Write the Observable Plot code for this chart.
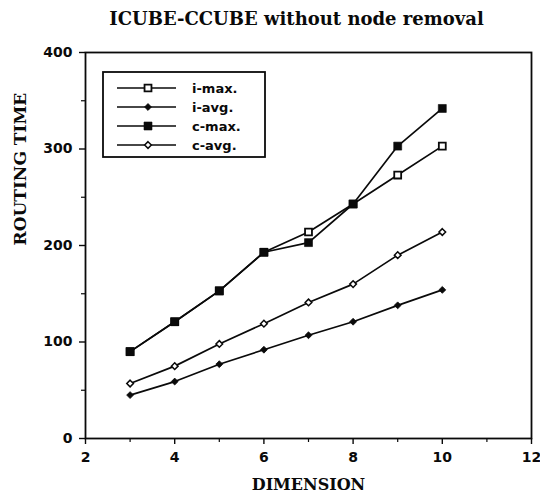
<!DOCTYPE html>
<html>
<head>
<meta charset="utf-8">
<script src="https://cdn.jsdelivr.net/npm/d3@7"></script>
<script src="https://cdn.jsdelivr.net/npm/@observablehq/plot@0.6"></script>
<style>
  html, body { margin: 0; padding: 0; background: #fff; }
  #chart { position: relative; width: 540px; height: 501px; }
</style>
</head>
<body>
<div id="chart"></div>
<script>
// ---- data ----
const dims   = [3, 4, 5, 6, 7, 8, 9, 10];
const iMax   = [90, 121, 153, 193, 214, 243, 273, 303];
const iAvg   = [45, 59, 77, 92, 107, 121, 138, 154];
const cMax   = [90, 121, 153, 193, 203, 243, 303, 342];
const cAvg   = [57, 75, 98, 119, 141, 160, 190, 214];
const seriesNames = ["i-max.", "i-avg.", "c-max.", "c-avg."];
const xMajor = [2, 4, 6, 8, 10, 12];
const xMinor = [3, 5, 7, 9, 11];
const yMajor = [0, 100, 200, 300, 400];
const yMinor = [50, 150, 250, 350];
const titleText = "ICUBE-CCUBE without node removal";
const xLabel = "DIMENSION";
const yLabel = "ROUTING TIME";

// ---- styles per series ----
const ink = "#0a0a0a";
const styles = {
  "i-max.": {symbol: "square",   r: 3.9, fill: "#fff", stroke: ink, sw: 1.8},
  "i-avg.": {symbol: "diamond2", r: 3.1, fill: ink,    stroke: ink, sw: 0.8},
  "c-max.": {symbol: "square",   r: 4.5, fill: ink,    stroke: ink, sw: 0.6},
  "c-avg.": {symbol: "diamond2", r: 3.0, fill: "#fff", stroke: ink, sw: 1.5}
};

const valuesBySeries = {"i-max.": iMax, "i-avg.": iAvg, "c-max.": cMax, "c-avg.": cAvg};
const rows = seriesNames.flatMap(s => dims.map((d, i) => ({series: s, dim: d, value: valuesBySeries[s][i]})));

const dotOrder = ["i-max.", "c-avg.", "i-avg.", "c-max."];
const dotMarks = dotOrder.map(s => Plot.dot(rows.filter(r => r.series === s), {
  x: "dim", y: "value",
  symbol: () => styles[s].symbol,
  r: styles[s].r, fill: styles[s].fill, stroke: styles[s].stroke, strokeWidth: styles[s].sw
}));

const serif = "DejaVu Serif";
const sans = "DejaVu Sans";

const plot = Plot.plot({
  width: 540,
  height: 501,
  marginLeft: 85,
  marginRight: 9,
  marginTop: 52,
  marginBottom: 63,
  style: {fontFamily: sans, fontWeight: "bold", fontSize: "13px", color: ink, background: "#fff"},
  x: {domain: [2, 12]},
  y: {domain: [0, 400]},
  symbol: {type: "identity"},
  marks: [
    Plot.axisX({ticks: xMajor, tickSize: 6, tickPadding: 8, label: null, stroke: ink, strokeWidth: 1.4, fontSize: 14, fontWeight: "bold"}),
    Plot.axisX({ticks: xMinor, tickSize: 4, text: null, label: null, stroke: ink, strokeWidth: 1.2}),
    Plot.axisY({ticks: yMajor, tickSize: 6, tickPadding: 7, label: null, stroke: ink, strokeWidth: 1.4, fontSize: 14, fontWeight: "bold"}),
    Plot.axisY({ticks: yMinor, tickSize: 4, text: null, label: null, stroke: ink, strokeWidth: 1.2}),
    Plot.frame({stroke: ink, strokeWidth: 1.8}),
    Plot.line(rows, {x: "dim", y: "value", z: "series", stroke: ink, strokeWidth: 1.7}),
    ...dotMarks,
    Plot.text([titleText], {frameAnchor: "top", dx: -12, dy: -40, fontFamily: serif, fontWeight: "bold", fontSize: 18, fill: ink}),
    Plot.text([xLabel], {frameAnchor: "bottom", dy: 51, fontFamily: serif, fontWeight: "bold", fontSize: 16, fill: ink}),
    Plot.text([yLabel], {frameAnchor: "left", dx: -65, rotate: -90, fontFamily: serif, fontWeight: "bold", fontSize: 17, fill: ink})
  ]
});

document.getElementById("chart").appendChild(plot);

// ---- legend (drawn into the plot's svg) ----
const svg = d3.select(plot);
const lg = svg.append("g").attr("class", "legend");
lg.append("rect")
  .attr("x", 103).attr("y", 72).attr("width", 162).attr("height", 85)
  .attr("fill", "#fff").attr("stroke", ink).attr("stroke-width", 1.8);
const symbolType = {square: d3.symbolSquare, diamond2: d3.symbolDiamond2};
seriesNames.forEach((s, i) => {
  const y = 88 + i * 19;
  const st = styles[s];
  lg.append("line").attr("x1", 117).attr("x2", 176).attr("y1", y).attr("y2", y)
    .attr("stroke", ink).attr("stroke-width", 1.5);
  lg.append("path")
    .attr("d", d3.symbol(symbolType[st.symbol], Math.PI * st.r * st.r)())
    .attr("transform", `translate(148,${y})`)
    .attr("fill", st.fill).attr("stroke", st.stroke).attr("stroke-width", st.sw);
  lg.append("text").attr("x", 192).attr("y", y).attr("dy", "0.35em")
    .attr("text-anchor", "start")
    .attr("font-family", sans).attr("font-weight", "bold").attr("font-size", 13)
    .attr("fill", ink).text(s);
});
</script>
</body>
</html>
